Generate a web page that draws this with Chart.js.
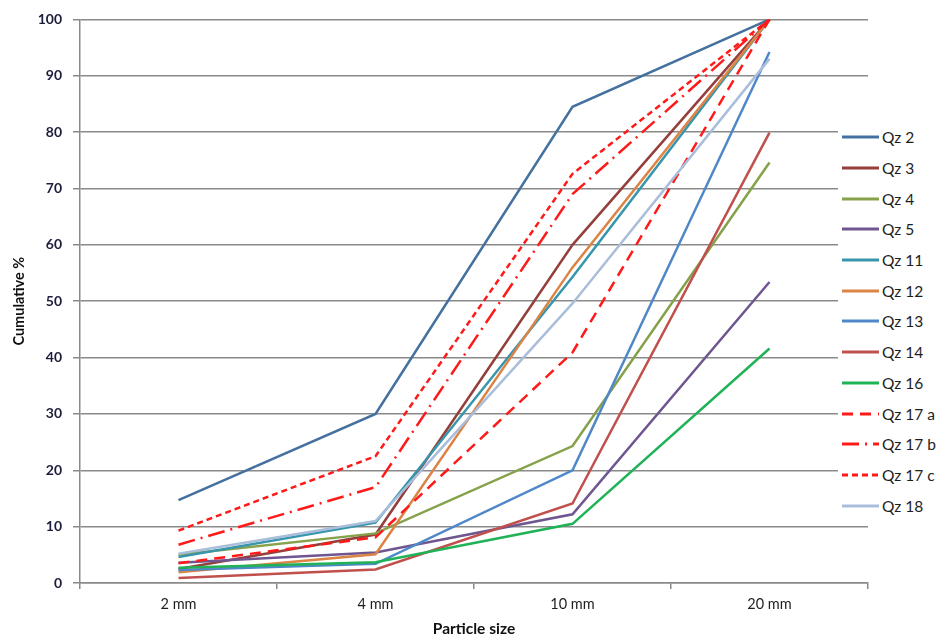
<!DOCTYPE html>
<html>
<head>
<meta charset="utf-8">
<script src="https://cdn.jsdelivr.net/npm/chart.js@4.4.1/dist/chart.umd.min.js"></script>
<style>
  body { margin: 0; background: #fff; font-family: Lato, sans-serif; }
  #wrap { position: relative; width: 940px; height: 639px; }
  #legend { position: absolute; left: 838px; top: 122px; width: 102px; background: #fff; }
  .row { height: 30.7px; display: flex; align-items: center; font-size: 15.5px; color: #1e1e1e; }
  .row svg { margin-left: 4px; margin-right: 3px; }
</style>
</head>
<body>
<div id="wrap">
  <canvas id="psd" width="940" height="639"></canvas>
  <div id="legend"></div>
</div>
<script>
// particle size classes on the x axis
const sizes = ['2 mm', '4 mm', '10 mm', '20 mm'];

// cumulative % passing for each sample
const qz2 = [14.7, 30.0, 84.5, 100];
const qz3 = [2.5, 8.6, 60.0, 100];
const qz4 = [5.0, 8.8, 24.3, 74.6];
const qz5 = [3.6, 5.4, 12.2, 53.4];
const qz11 = [4.6, 10.7, 54.3, 100];
const qz12 = [1.9, 5.1, 56.0, 100];
const qz13 = [2.3, 3.4, 20.0, 94.2];
const qz14 = [0.9, 2.4, 14.1, 79.9];
const qz16 = [2.7, 3.7, 10.5, 41.6];
const qz17a = [3.5, 8.1, 40.9, 100];
const qz17b = [6.8, 17.0, 69.0, 100];
const qz17c = [9.3, 22.5, 72.6, 100];
const qz18 = [5.2, 11.0, 49.6, 93.0];

const names = ['Qz 2', 'Qz 3', 'Qz 4', 'Qz 5', 'Qz 11', 'Qz 12', 'Qz 13', 'Qz 14', 'Qz 16', 'Qz 17 a', 'Qz 17 b', 'Qz 17 c', 'Qz 18'];
const series = [qz2, qz3, qz4, qz5, qz11, qz12, qz13, qz14, qz16, qz17a, qz17b, qz17c, qz18];
const colors = ['#44719f', '#953f3c', '#85a24b', '#6f5690', '#3796ab', '#dc8446', '#4f88c8', '#c0504d', '#1fb256', '#ff1a1a', '#ff1a1a', '#ff1a1a', '#a9bedb'];
const dashes = [[], [], [], [], [], [], [], [], [], [11, 7], [17, 6, 2, 6], [6, 4], []];

let datasets = [];
for (let i = 0; i < names.length; i++) {
  datasets.push({
    label: names[i],
    data: series[i],
    borderColor: colors[i],
    borderWidth: 2.5,
    borderDash: dashes[i],
    borderCapStyle: 'butt',
    pointRadius: 0,
    tension: 0,
    fill: false,
    order: names.length - i   // later samples drawn on top
  });
}

new Chart('psd', {
  type: 'line',
  data: { labels: sizes, datasets: datasets },
  options: {
    responsive: false,
    animation: false,
    events: [],
    layout: { padding: { top: 15, right: 72, left: 0, bottom: 0 } },
    plugins: {
      legend: { display: false },
      tooltip: { enabled: false }
    },
    scales: {
      x: {
        offset: true,
        grid: { display: true, offset: true, drawOnChartArea: false, color: '#8a8a8a', lineWidth: 1.5, tickLength: 6 },
        border: { color: '#8a8a8a', width: 1.5 },
        ticks: { color: '#1e1e1e', font: { family: 'Lato', size: 14.5 }, padding: 7, maxRotation: 0 },
        title: { display: true, text: 'Particle size', color: '#111', font: { family: 'Lato', size: 15.5, weight: 'bold' }, padding: { top: 0, bottom: 1 } },
        afterFit: (scale) => { scale.height = 56; }
      },
      y: {
        min: 0,
        max: 100,
        ticks: { stepSize: 10, color: '#1c1c3c', font: { family: 'Lato', size: 14, weight: 'bold' }, padding: 11 },
        grid: { color: '#8a8a8a', lineWidth: 1.5, tickLength: 7 },
        border: { color: '#8a8a8a', width: 1.5 },
        title: { display: true, text: 'Cumulative %', color: '#111', font: { family: 'Lato', size: 14.5, weight: 'bold' }, padding: { top: 11, bottom: 0 } },
        afterFit: (scale) => { scale.width = 80; }
      }
    }
  }
});

// legend drawn beside the plot, over the gridlines
let legendBox = document.getElementById('legend');
for (let i = 0; i < names.length; i++) {
  let row = document.createElement('div');
  row.className = 'row';
  let dash = dashes[i].length ? ' stroke-dasharray="' + dashes[i].join(' ') + '"' : '';
  row.innerHTML = '<svg width="37" height="6"><line x1="0" y1="3" x2="37" y2="3" stroke="' + colors[i] +
    '" stroke-width="3"' + dash + '/></svg><span>' + names[i] + '</span>';
  legendBox.appendChild(row);
}
</script>
</body>
</html>
